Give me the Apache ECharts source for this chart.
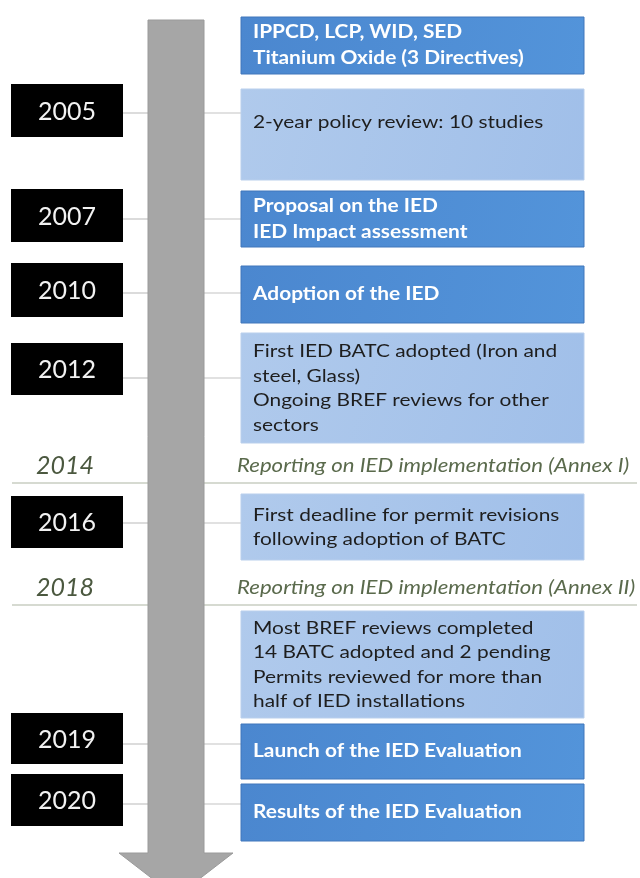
<!DOCTYPE html>
<html>
<head>
<meta charset="utf-8">
<script src="https://cdn.jsdelivr.net/npm/echarts@6/dist/echarts.min.js"></script>
<style>
  html, body { margin: 0; padding: 0; background: #fff; }
  #timeline { width: 640px; height: 878px; }
</style>
</head>
<body>
<div id="timeline"></div>
<script>
// events on the right of the arrow (top / bottom on the page scale)
const eventLines = [
  "IPPCD, LCP, WID, SED\nTitanium Oxide (3 Directives)",
  "2-year policy review: 10 studies\n",
  "Proposal on the IED\nIED Impact assessment",
  "Adoption of the IED",
  "First IED BATC adopted (Iron and\nsteel, Glass)\nOngoing BREF reviews for other\nsectors",
  "First deadline for permit revisions\nfollowing adoption of BATC",
  "Most BREF reviews completed\n14 BATC adopted and 2 pending\nPermits reviewed for more than\nhalf of IED installations",
  "Launch of the IED Evaluation",
  "Results of the IED Evaluation"
];
const eventTop = [17, 89, 191, 266, 333, 494, 611, 724, 784];
const eventBottom = [74, 180, 247, 323, 443, 560, 718, 779, 841];
const eventKind = ["key", "study", "key", "key", "study", "study", "study", "key", "key"];

// black year boxes on the left
const years = ["2005", "2007", "2010", "2012", "2016", "2019", "2020"];
const yearTop = [84, 189, 263, 343, 496, 713, 774];
const yearBottom = [137, 242, 317, 395, 548, 764, 826];
const yearLink = [113, 219, 293, 378, 523, 744, 804];

// reporting milestones (italic rows with a rule under them)
const reportYears = ["2014", "2018"];
const reportTexts = [
  "Reporting on IED implementation (Annex I)",
  "Reporting on IED implementation (Annex II)"
];
const reportY = [466, 588];
const reportRule = [483, 605];

// the grey arrow: top of shaft, start of head, tip
const arrowSpan = [20, 853, 897];

const chartEl = document.getElementById("timeline");
const chart = echarts.init(chartEl);

const FONT = "Lato, 'Open Sans', sans-serif";
const SHAFT_L = 148, SHAFT_R = 204, HEAD_L = 119, HEAD_R = 233;
const YEAR_L = 11, YEAR_R = 123;
const BOX_L = 241, BOX_R = 584;
// the source text is set in a wide face, stretch Lato a bit
const STRETCH = 1.16;

const darkFill = {
  type: "linear", x: 0, y: 0, x2: 1, y2: 1,
  colorStops: [{ offset: 0, color: "#4b87cf" }, { offset: 1, color: "#5394da" }]
};
const lightFill = {
  type: "linear", x: 0, y: 0, x2: 1, y2: 1,
  colorStops: [{ offset: 0, color: "#b0caec" }, { offset: 1, color: "#a0bfe9" }]
};

const options = {
  animation: false,
  grid: { left: 0, right: 0, top: 0, bottom: 0 },
  xAxis: { type: "value", min: 0, max: 640, show: false },
  yAxis: { type: "value", min: 0, max: 878, inverse: true, show: false },
  series: [
    {
      // rules under the reporting rows
      type: "custom",
      z: 1,
      data: reportRule.map((y) => [y]),
      renderItem: (params, api) => {
        const a = api.coord([12, api.value(0)]);
        const b = api.coord([637, api.value(0)]);
        return {
          type: "line",
          shape: { x1: a[0], y1: a[1], x2: b[0], y2: b[1] },
          style: { stroke: "#c9cec2", lineWidth: 1.5 }
        };
      }
    },
    {
      // connectors from year box to arrow to event box
      type: "custom",
      z: 2,
      data: yearLink.map((y) => [y]),
      renderItem: (params, api) => {
        const y = api.value(0);
        const p = (x) => api.coord([x, y]);
        return {
          type: "group",
          children: [
            { type: "line", shape: { x1: p(YEAR_R)[0], y1: p(YEAR_R)[1], x2: p(SHAFT_L)[0], y2: p(SHAFT_L)[1] }, style: { stroke: "#c4c4c4", lineWidth: 1.2 } },
            { type: "line", shape: { x1: p(SHAFT_R)[0], y1: p(SHAFT_R)[1], x2: p(BOX_L)[0], y2: p(BOX_L)[1] }, style: { stroke: "#c4c4c4", lineWidth: 1.2 } }
          ]
        };
      }
    },
    {
      // grey timeline arrow
      type: "custom",
      z: 3,
      data: [arrowSpan],
      renderItem: (params, api) => {
        const top = api.value(0), neck = api.value(1), tip = api.value(2);
        const c = (x, y) => api.coord([x, y]);
        const mid = (SHAFT_L + SHAFT_R) / 2;
        return {
          type: "polygon",
          shape: {
            points: [
              c(SHAFT_L, top), c(SHAFT_R, top), c(SHAFT_R, neck), c(HEAD_R, neck),
              c(mid, tip), c(HEAD_L, neck), c(SHAFT_L, neck)
            ]
          },
          style: { fill: "#a6a6a6", stroke: "#9a9a9a", lineWidth: 1 }
        };
      }
    },
    {
      // black year boxes
      type: "custom",
      z: 4,
      data: years.map((y, i) => [yearTop[i], yearBottom[i]]),
      renderItem: (params, api) => {
        const a = api.coord([YEAR_L, api.value(0)]);
        const b = api.coord([YEAR_R, api.value(1)]);
        return {
          type: "group",
          children: [
            { type: "rect", shape: { x: a[0], y: a[1], width: b[0] - a[0], height: b[1] - a[1] }, style: { fill: "#000" } },
            {
              type: "text",
              x: (a[0] + b[0]) / 2, y: (a[1] + b[1]) / 2 + 1,
              style: { text: years[params.dataIndex], fill: "#f2f2f2", font: "25px " + FONT, align: "center", verticalAlign: "middle" }
            }
          ]
        };
      }
    },
    {
      // event boxes
      type: "custom",
      z: 4,
      data: eventTop.map((t, i) => [t, eventBottom[i]]),
      renderItem: (params, api) => {
        const i = params.dataIndex;
        const key = eventKind[i] === "key";
        const a = api.coord([BOX_L, api.value(0)]);
        const b = api.coord([BOX_R, api.value(1)]);
        return {
          type: "group",
          children: [
            {
              type: "rect",
              shape: { x: a[0], y: a[1], width: b[0] - a[0], height: b[1] - a[1] },
              style: { fill: key ? darkFill : lightFill, stroke: key ? "#4077bb" : "#b9cfec", lineWidth: 1 }
            },
            {
              type: "text",
              x: a[0] + 12, y: (a[1] + b[1]) / 2,
              scaleX: STRETCH,
              style: {
                text: eventLines[i],
                fill: key ? "#ffffff" : "#1e1e1e",
                font: (key ? "bold " : "") + "18px " + FONT,
                lineHeight: key ? 26 : 24.5,
                align: "left",
                verticalAlign: "middle"
              }
            }
          ]
        };
      }
    },
    {
      // reporting rows: italic year and note
      type: "custom",
      z: 4,
      data: reportY.map((y) => [y]),
      renderItem: (params, api) => {
        const i = params.dataIndex;
        const yr = api.coord([65, api.value(0)]);
        const tx = api.coord([237, api.value(0)]);
        return {
          type: "group",
          children: [
            { type: "text", x: yr[0], y: yr[1], style: { text: reportYears[i], fill: "#4b583f", font: "italic 25px " + FONT, align: "center", verticalAlign: "middle" } },
            { type: "text", x: tx[0], y: tx[1], scaleX: 1.2, style: { text: reportTexts[i], fill: "#5a6a4c", font: "italic 18.5px " + FONT, align: "left", verticalAlign: "middle" } }
          ]
        };
      }
    }
  ]
};

chart.setOption(options);

window.addEventListener("resize", () => {
  chart.resize();
});
</script>
</body>
</html>
